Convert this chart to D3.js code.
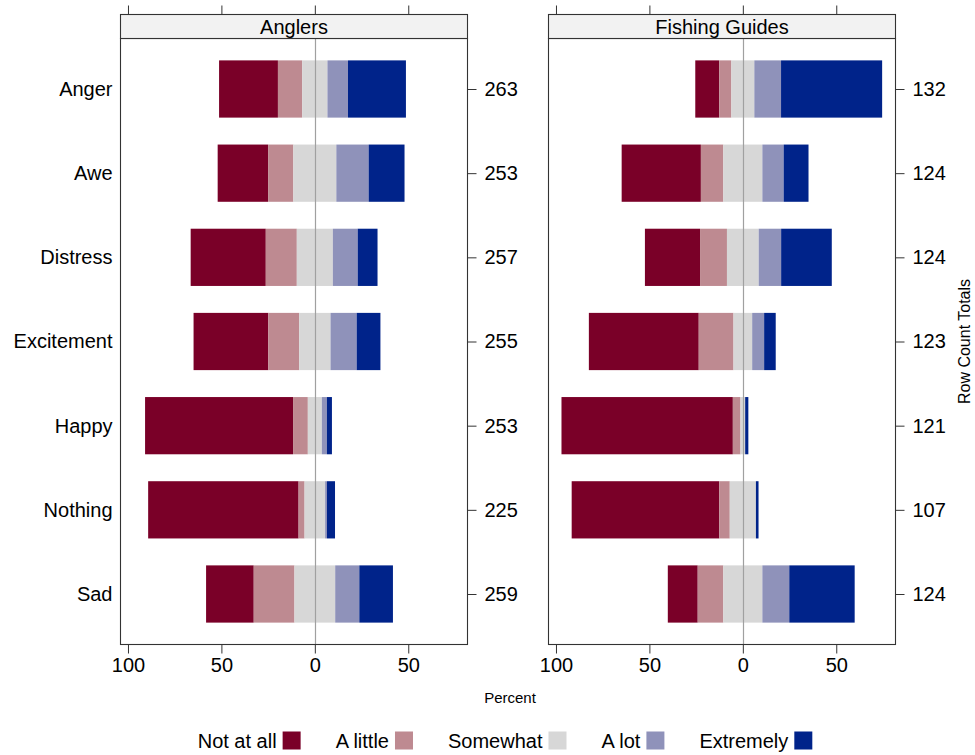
<!DOCTYPE html>
<html>
<head>
<meta charset="utf-8">
<script src="https://cdn.jsdelivr.net/npm/d3@7"></script>
<style>
  html, body { margin: 0; padding: 0; background: #fff; }
  svg { display: block; font-family: "Liberation Sans", Arial, Helvetica, sans-serif; }
</style>
</head>
<body>
<svg id="chart" width="975" height="755"></svg>
<script>
// Emotions (rows, top to bottom)
const emotions = ["Anger", "Awe", "Distress", "Excitement", "Happy", "Nothing", "Sad"];

// Response levels, from most negative to most positive
const levels = ["Not at all", "A little", "Somewhat", "A lot", "Extremely"];
const levelColors = ["#7a0028", "#be8a91", "#d7d7d7", "#8f92ba", "#00238a"];

// Percent of respondents per level, one array per emotion row
const anglersPct = [
  [31.5, 13.0, 13.5, 11.0, 31.0],
  [27.0, 13.5, 23.0, 17.3, 19.2],
  [40.2, 16.6, 19.3, 13.3, 10.6],
  [40.0, 16.5, 16.8, 14.0, 12.7],
  [79.2,  7.9,  7.5,  2.7,  2.7],
  [80.5,  3.2, 11.0,  1.0,  4.3],
  [25.5, 21.8, 21.8, 12.9, 18.0]
];
const guidesPct = [
  [12.8,  6.5, 12.3, 14.3, 54.1],
  [42.4, 12.0, 20.9, 11.4, 13.3],
  [29.5, 14.4, 17.0, 12.0, 27.1],
  [58.8, 18.6, 10.0,  6.4,  6.2],
  [91.7,  4.1,  2.5,  0.0,  1.7],
  [79.0,  5.6, 14.0,  0.0,  1.4],
  [16.0, 13.7, 20.9, 14.4, 35.0]
];

// Row count totals
const anglersN = [263, 253, 257, 255, 253, 225, 259];
const guidesN  = [132, 124, 124, 123, 121, 107, 124];

// Axis ticks
const xTicks = [-100, -50, 0, 50];

const panels = [
  { title: "Anglers",        pct: anglersPct, n: anglersN, x0: 120.5 },
  { title: "Fishing Guides", pct: guidesPct,  n: guidesN,  x0: 548.5 }
];

const svg = d3.select("#chart");
const panelW = 347;
const plotTop = 38.5, plotBottom = 644.5, stripTop = 14.5;
const tickLen = 9;
const fontBig = 20;

const y = d3.scaleLinear().domain([0.4, emotions.length + 0.6]).range([plotTop, plotBottom]);
const barH = (y(1.68) - y(1));

panels.forEach((p, pi) => {
  const x = d3.scaleLinear().domain([-104, 81.7]).range([p.x0, p.x0 + panelW]);
  const g = svg.append("g");

  // diverging segments: "Somewhat" split evenly across zero
  p.pct.forEach((vals, ri) => {
    const mid = vals[2] / 2;
    const starts = [];
    let left = -(vals[0] + vals[1] + mid);
    vals.forEach(v => { starts.push(left); left += v; });
    const yc = y(ri + 1);
    vals.forEach((v, li) => {
      if (v <= 0) return;
      g.append("rect")
        .attr("x", x(starts[li]))
        .attr("y", yc - barH / 2)
        .attr("width", x(starts[li] + v) - x(starts[li]))
        .attr("height", barH)
        .attr("fill", levelColors[li]);
    });
  });

  // zero reference line
  g.append("line")
    .attr("x1", Math.round(x(0)) + 0.5).attr("x2", Math.round(x(0)) + 0.5)
    .attr("y1", plotTop).attr("y2", plotBottom)
    .attr("stroke", "#a0a0a0").attr("stroke-width", 1.2);

  // panel frame
  g.append("rect")
    .attr("x", p.x0).attr("y", plotTop).attr("width", panelW).attr("height", plotBottom - plotTop)
    .attr("fill", "none").attr("stroke", "#333").attr("stroke-width", 1.1);

  // strip
  g.append("rect")
    .attr("x", p.x0).attr("y", stripTop).attr("width", panelW).attr("height", plotTop - stripTop)
    .attr("fill", "#f2f2f2").attr("stroke", "#333").attr("stroke-width", 1.1);
  g.append("text")
    .attr("x", p.x0 + panelW / 2).attr("y", plotTop - 5)
    .attr("text-anchor", "middle").attr("font-size", fontBig).attr("fill", "#000")
    .text(p.title);

  // bottom axis
  const bAxis = d3.axisBottom(x).tickValues(xTicks).tickSize(tickLen).tickPadding(4)
    .tickFormat(d => String(Math.abs(d)));
  const bx = g.append("g").attr("transform", `translate(0,${plotBottom})`).call(bAxis);
  bx.select(".domain").remove();
  bx.selectAll(".tick line").attr("stroke", "#333");
  bx.selectAll(".tick text").attr("font-size", fontBig).attr("fill", "#000")
    .attr("font-family", "Liberation Sans, Arial, sans-serif");

  // top ticks (no labels)
  const tAxis = d3.axisTop(x).tickValues(xTicks).tickSize(tickLen).tickFormat("");
  const tx = g.append("g").attr("transform", `translate(0,${stripTop})`).call(tAxis);
  tx.select(".domain").remove();
  tx.selectAll(".tick line").attr("stroke", "#333");

  // right axis: row count totals
  const yBand = d3.scalePoint().domain(emotions).range([y(1), y(emotions.length)]);
  const rAxis = d3.axisRight(yBand).tickSize(tickLen).tickPadding(8)
    .tickFormat((d, i) => String(p.n[i]));
  const ry = g.append("g").attr("transform", `translate(${p.x0 + panelW},0)`).call(rAxis);
  ry.select(".domain").remove();
  ry.selectAll(".tick line").attr("stroke", "#333");
  ry.selectAll(".tick text").attr("font-size", fontBig).attr("fill", "#000")
    .attr("font-family", "Liberation Sans, Arial, sans-serif");

  // left category labels on first panel
  if (pi === 0) {
    const lAxis = d3.axisLeft(yBand).tickSize(0).tickPadding(8);
    const ly = g.append("g").attr("transform", `translate(${p.x0},0)`).call(lAxis);
    ly.select(".domain").remove();
    ly.selectAll(".tick text").attr("font-size", fontBig).attr("fill", "#000")
      .attr("font-family", "Liberation Sans, Arial, sans-serif");
  }
});

// x axis title
svg.append("text")
  .attr("x", 510).attr("y", 703)
  .attr("text-anchor", "middle").attr("font-size", 15).attr("fill", "#000")
  .text("Percent");

// right axis title
svg.append("text")
  .attr("transform", `translate(970,${(plotTop + plotBottom) / 2}) rotate(-90)`)
  .attr("text-anchor", "middle").attr("font-size", 16).attr("fill", "#000")
  .text("Row Count Totals");

// legend: label followed by swatch
const legend = svg.append("g");
let lx = 0;
const sw = 18, gapTS = 6, gapItem = 35, legY = 748;
levels.forEach((lv, i) => {
  const t = legend.append("text")
    .attr("x", lx).attr("y", legY)
    .attr("font-size", fontBig).attr("fill", "#000").text(lv);
  const w = t.node().getComputedTextLength();
  legend.append("rect")
    .attr("x", lx + w + gapTS).attr("y", legY - 16.5)
    .attr("width", sw).attr("height", sw)
    .attr("fill", levelColors[i]);
  lx += w + gapTS + sw + gapItem;
});
const legW = lx - gapItem;
legend.attr("transform", `translate(${505 - legW / 2},0)`);
</script>
</body>
</html>
